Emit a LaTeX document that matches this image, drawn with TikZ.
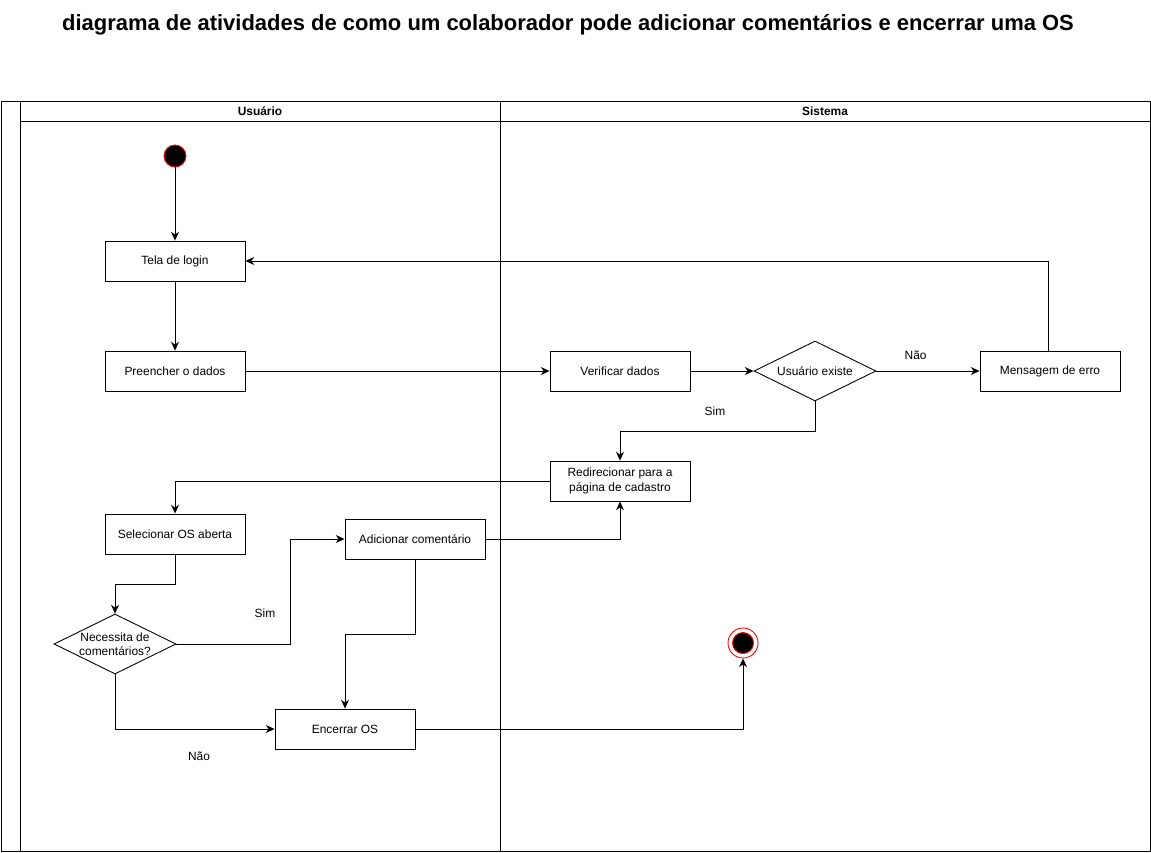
\documentclass[tikz,border=0pt]{standalone}
\usepackage{fontspec}
\setmainfont{Liberation Sans}
\usetikzlibrary{shapes.geometric,arrows.meta}
\definecolor{borda_inicio}{HTML}{FF0000}

\tikzset{
  acao/.style={draw, line width=0.5pt, minimum width=2.8cm, minimum height=0.8cm, inner sep=1pt,
    align=center, font=\fontsize{6.8pt}{8.2pt}\selectfont},
  decisao/.style={draw, diamond, aspect=2, line width=0.5pt, minimum width=2.44cm, minimum height=1.2cm,
    inner sep=-1.5pt, align=center, font=\fontsize{6.8pt}{8.2pt}\selectfont},
  rotulo/.style={font=\fontsize{6.8pt}{8.2pt}\selectfont},
  seta/.style={->, line width=0.5pt},
  raia/.style={line width=0.5pt}
}

\begin{document}
\begin{tikzpicture}[x=0.02cm,y=-0.02cm,>={Stealth[length=5pt,width=4.5pt]}]
  \useasboundingbox (0,0) rectangle (1151,852);
  % titulo
  \node[font=\fontsize{12.5pt}{14pt}\selectfont\bfseries] (titulo) at (568,25)
    {diagrama de atividades de como um colaborador pode adicionar comentários e encerrar uma OS};
  % piscina e raias
  \draw[raia] (1,101) rectangle (1150,851);
  \draw[raia] (20,101) -- (20,851);
  \draw[raia] (500,101) -- (500,851);
  \draw[raia] (20,121) -- (1150,121);
  \node[font=\fontsize{6.8pt}{8.2pt}\selectfont\bfseries] (usuario) at (260,111) {Usuário};
  \node[font=\fontsize{6.8pt}{8.2pt}\selectfont\bfseries] (sistema) at (825,111) {Sistema};

  % nos
  \node[circle, fill=black, draw=borda_inicio, line width=0.5pt, minimum size=0.44cm, inner sep=0pt] (inicio) at (175,156) {};
  \node[acao] (login) at (175,261) {Tela de login};
  \node[acao] (preencher) at (175,371) {Preencher o dados};
  \node[acao] (verificar) at (620,371) {Verificar dados};
  \node[decisao] (existe) at (815,371) {Usuário existe};
  \node[acao] (erro) at (1050,371) {Mensagem de erro};
  \node[acao] (redirecionar) at (620,481) {Redirecionar para a\\página de cadastro};
  \node[acao] (selecionar) at (175,534) {Selecionar OS aberta};
  \node[acao] (adicionar) at (415,539) {Adicionar comentário};
  \node[decisao] (necessita) at (115,644) {Necessita de\\comentários?};
  \node[acao] (encerrar) at (345,729) {Encerrar OS};
  \node[circle, draw=borda_inicio, line width=0.5pt, minimum size=0.6cm, inner sep=0pt] (fim) at (743,643) {};
  \node[circle, fill=black, draw=borda_inicio, line width=0.5pt, minimum size=0.42cm, inner sep=0pt] (fimint) at (743,643) {};

  % ligacoes
  \draw[seta] (inicio) -- (login);
  \draw[seta] (login) -- (preencher);
  \draw[seta] (preencher) -- (verificar);
  \draw[seta] (verificar) -- (existe);
  \draw[seta] (existe) -- (erro) node[rotulo, pos=0.38, above=3pt] {Não};
  \draw[seta] ([xshift=-2*0.02cm]erro.north) |- (login.east);
  \draw[seta] (existe.south) |- (620,431) -- (redirecionar.north);
  \draw[seta] (redirecionar.west) -| (selecionar.north);
  \draw[seta] (selecionar.south) |- (115,584) -- (necessita.north);
  \draw[seta] (necessita.east) -- (290,644) |- (adicionar.west);
  \draw[seta] (adicionar.east) -| (redirecionar.south);
  \draw[seta] (adicionar.south) |- (345,634) -- (encerrar.north);
  \draw[seta] (necessita.south) |- (encerrar.west);
  \draw[seta] (encerrar.east) -| (fim.south);

  % rotulos soltos
  \node[rotulo] (sim1) at (715,411) {Sim};
  \node[rotulo] (sim2) at (265,613) {Sim};
  \node[rotulo] (nao2) at (199,756) {Não};
\end{tikzpicture}
\end{document}
